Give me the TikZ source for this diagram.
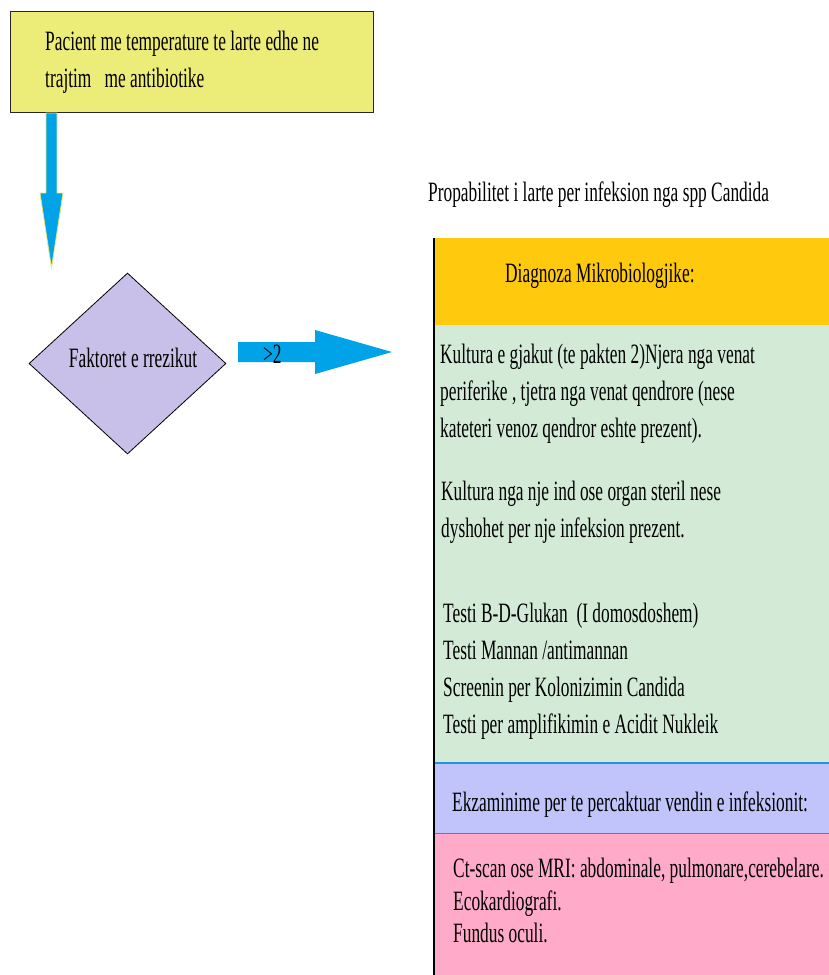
\documentclass[tikz,border=0pt]{standalone}
\usepackage{fontspec}
\setmainfont{Liberation Serif}[FakeStretch=0.62]
\usetikzlibrary{shapes.geometric}
\definecolor{startfill}{RGB}{236,236,120}
\definecolor{riskfill}{RGB}{200,192,232}
\definecolor{flowblue}{RGB}{0,162,232}
\definecolor{arrowedge}{RGB}{232,232,120}
\definecolor{headfill}{RGB}{255,201,14}
\definecolor{microfill}{RGB}{211,235,214}
\definecolor{examfill}{RGB}{192,196,250}
\definecolor{examline}{RGB}{30,150,220}
\definecolor{imgfill}{RGB}{255,170,200}
\tikzset{
  txt/.style={anchor=base west, inner sep=0pt, font=\fontsize{28}{37}\selectfont},
  panel/.style={anchor=north west, inner sep=0pt, minimum width=395pt, draw=none},
  blockarrow/.style={fill=flowblue},
}
\begin{document}
\begin{tikzpicture}[x=1pt,y=-1pt]
\useasboundingbox (0,0) rectangle (829,975);

% start box
\node[draw=black!85, line width=1.2pt, fill=startfill, anchor=north west,
      minimum width=363pt, minimum height=101pt, inner sep=0pt] (start) at (10,11) {};
\node[txt] (start1) at (45,50) {Pacient me temperature te larte edhe ne};
\node[txt] (start2) at (45,87) {trajtim\ \ \ me antibiotike};

% decision
\node[diamond, draw=black, line width=0.8pt, fill=riskfill, inner sep=0pt,
      minimum width=197pt, minimum height=181pt] (risk) at (127.5,363.5) {};
\node[txt, anchor=base] (risktext) at (133,367) {Faktoret e rrezikut};

% down arrow from start box towards the decision
\coordinate (downtail) at (51.5,113);
\coordinate (downtip) at (51.5,268);
\draw[blockarrow, draw=arrowedge, line width=0.8pt]
  (46,113) -- (57,113) -- (57,193) -- (63,193) -- (downtip) -- (40,193) -- (46,193) -- cycle;

% right arrow from the decision to the diagnosis column
\coordinate (righttail) at (238,352);
\coordinate (righttip) at (392,352);
\fill[blockarrow]
  (238,342) -- (315,342) -- (315,330) -- (righttip) -- (315,374) -- (315,362) -- (238,362) -- cycle;
\node[txt] (gt) at (263,363) {>2};

% title above the column
\node[txt] (title) at (428,201) {Propabilitet i larte per infeksion nga spp Candida};

% diagnosis column
\node[panel, fill=headfill, minimum height=87pt] (head) at (434,238) {};
\node[panel, fill=microfill, minimum height=438pt] (micro) at (434,325) {};
\node[panel, fill=examfill, minimum height=70pt] (exam) at (434,763) {};
\node[panel, fill=imgfill, minimum height=142pt] (img) at (434,833) {};
\draw[examline, line width=1.5pt] (exam.north west) -- (exam.north east);
\draw[examline, line width=1.5pt] (exam.south west) -- (exam.south east);
\draw[black, line width=1.2pt] (head.north west) -- (img.south west);

\node[txt] (headtext) at (505,282) {Diagnoza Mikrobiologjike:};

\node[txt] (m1) at (440,363) {Kultura e gjakut (te pakten 2)Njera nga venat};
\node[txt] (m2) at (440,400) {periferike , tjetra nga venat qendrore (nese};
\node[txt] (m3) at (440,437) {kateteri venoz qendror eshte prezent).};
\node[txt] (m4) at (441,500) {Kultura nga nje ind ose organ steril nese};
\node[txt] (m5) at (441,537) {dyshohet per nje infeksion prezent.};
\node[txt] (t1) at (443,622) {Testi B-D-Glukan\ \ (I domosdoshem)};
\node[txt] (t2) at (443,659) {Testi Mannan /antimannan};
\node[txt] (t3) at (443,696) {Screenin per Kolonizimin Candida};
\node[txt] (t4) at (443,733) {Testi per amplifikimin e Acidit Nukleik};

\node[txt] (examtext) at (452,811) {Ekzaminime per te percaktuar vendin e infeksionit:};

\node[txt] (i1) at (453,877) {Ct-scan ose MRI: abdominale, pulmonare,cerebelare.};
\node[txt] (i2) at (453,910) {Ecokardiografi.};
\node[txt] (i3) at (453,942) {Fundus oculi.};
\end{tikzpicture}
\end{document}
